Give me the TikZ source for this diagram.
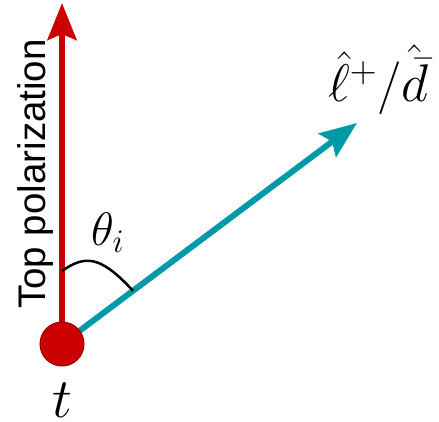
\RequirePackage{fix-cm}
\documentclass[tikz,border=0pt]{standalone}
\usepackage{fontspec}
\newfontfamily\labelfont{Liberation Sans}
\usetikzlibrary{arrows.meta}
\definecolor{topred}{RGB}{204,0,0}
\definecolor{edgered}{RGB}{150,0,0}
\definecolor{tealarrow}{RGB}{0,153,168}
\tikzset{
  bigarrow/.style={line width=6pt, -{Stealth[length=37pt,width=29pt,inset=6pt]}},
  anglearc/.style={line width=2.5pt, black},
  vertexdot/.style={circle, minimum size=44pt, inner sep=0pt, fill=topred, draw=edgered, line width=1pt},
}
\begin{document}
\begin{tikzpicture}[x=1pt,y=-1pt]
\useasboundingbox (0,0) rectangle (439,422);
\coordinate (c) at (62,344);
\coordinate (ptop) at (62,3);
\coordinate (dtip) at (357,123);
\coordinate (a1) at (62,271);
\coordinate (a2) at (133,290.8);
\draw[bigarrow, topred] (c) -- (ptop);
\draw[bigarrow, tealarrow] (c) -- (dtip);
\draw[anglearc] (a1) .. controls (85,255) and (100,255) .. (a2);
\node[vertexdot] (top) at (c) {};
\node[rotate=90, anchor=base, inner sep=0pt, font=\labelfont\fontsize{38.5}{44}\selectfont] (pol) at (45,174) {Top polarization};
\node[anchor=base west, inner sep=0pt, font=\fontsize{47}{54}\selectfont] (theta) at (91,245) {$\theta_i$};
\node[anchor=base, inner sep=0pt, font=\fontsize{56}{62}\selectfont] (tlabel) at (62,417) {$t$};
\node[anchor=base west, inner sep=0pt, font=\fontsize{53}{60}\selectfont] (dlabel) at (328,102) {$\hat{\ell}^+/\hat{\bar{d}}$};
\end{tikzpicture}
\end{document}
